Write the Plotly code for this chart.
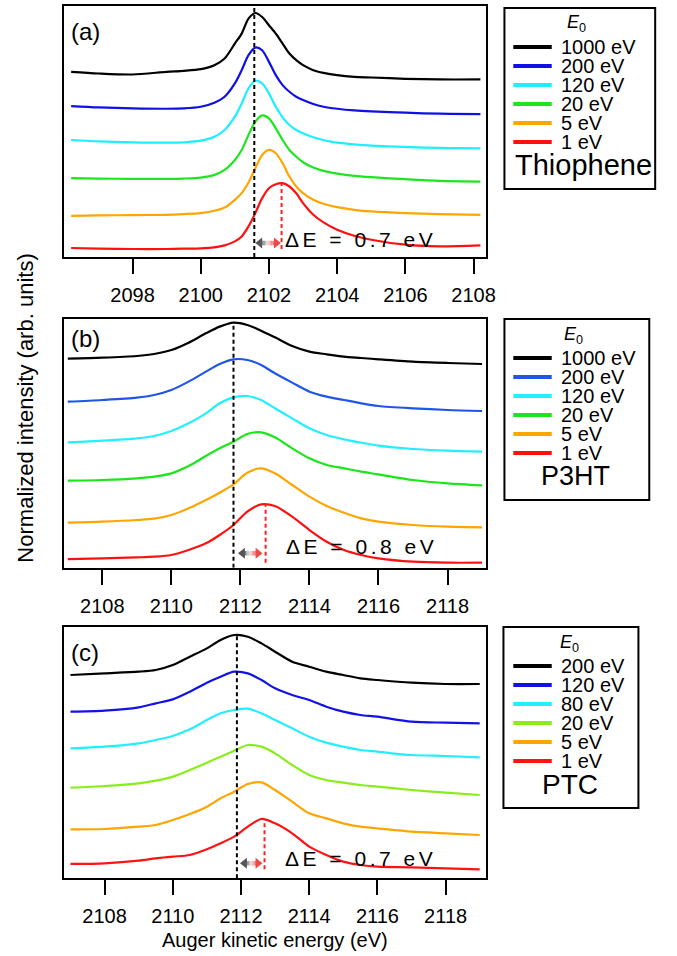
import plotly.graph_objects as go

W, H = 677, 956
FONT = "Liberation Sans, Arial, sans-serif"

# ---------------- Panel (a): Thiophene ----------------
energy_a = [2096.2, 2097, 2098, 2099, 2099.5, 2100, 2100.4, 2100.7, 2101.0, 2101.2,
            2101.4, 2101.6, 2101.8, 2102.0, 2102.2, 2102.4, 2102.6, 2102.8, 2103.0,
            2103.3, 2103.6, 2104.0, 2104.5, 2105, 2106, 2107, 2108.2]
thio_1000 = [557, 552, 549, 557, 560, 565, 577, 597, 642, 672, 717, 734, 722, 697, 672,
             642, 612, 592, 577, 562, 554, 547, 542, 540, 536, 534, 534]
thio_200 = [454, 450, 447, 446, 447, 452, 464, 482, 522, 562, 607, 630, 622, 587, 547,
            517, 497, 482, 472, 460, 452, 446, 441, 438, 434, 431, 430]
thio_120 = [352, 348, 345, 344, 345, 350, 362, 382, 422, 462, 507, 530, 522, 492, 452,
            420, 397, 382, 372, 360, 352, 344, 339, 335, 331, 328, 327]
thio_20 = [237, 236, 235, 235, 236, 239, 247, 262, 292, 322, 367, 407, 426, 417, 387,
           352, 322, 302, 285, 269, 259, 251, 244, 240, 234, 229, 227]
thio_5 = [124, 125, 126, 127, 129, 132, 139, 149, 172, 192, 224, 267, 307, 322, 312,
          282, 242, 212, 192, 172, 160, 150, 142, 137, 132, 129, 127]
thio_1 = [27, 25, 24, 24, 25, 26, 29, 35, 47, 62, 92, 132, 177, 207, 219, 222, 212,
          192, 162, 127, 104, 82, 64, 52, 37, 32, 35]

# ---------------- Panel (b): P3HT ----------------
energy_b = [2107.0, 2108, 2109, 2109.5, 2110, 2110.5, 2111, 2111.4, 2111.8, 2112.2,
            2112.6, 2113.0, 2113.5, 2114, 2114.5, 2115, 2115.5, 2116, 2117, 2118, 2119.0]
p3ht_1000 = [627, 630, 635, 641, 653, 675, 703, 723, 735, 728, 711, 691, 665, 648, 640,
             633, 629, 625, 618, 614, 611]
p3ht_200 = [498, 503, 510, 518, 533, 558, 588, 611, 625, 623, 608, 583, 555, 528, 513,
            503, 493, 485, 478, 473, 470]
p3ht_120 = [376, 381, 388, 395, 410, 433, 463, 493, 511, 515, 503, 478, 448, 418, 398,
            385, 375, 366, 356, 351, 348]
p3ht_20 = [261, 263, 268, 273, 283, 305, 335, 358, 378, 401, 406, 391, 358, 328, 308,
           298, 288, 280, 263, 253, 247]
p3ht_5 = [135, 138, 143, 147, 158, 178, 203, 225, 250, 285, 298, 283, 248, 213, 185,
          165, 148, 138, 128, 123, 121]
p3ht_1 = [26, 28, 31, 33, 38, 53, 73, 98, 128, 168, 190, 185, 153, 113, 78, 53, 38, 28,
          18, 15, 15]

# ---------------- Panel (c): PTC ----------------
energy_c = [2107.0, 2108, 2109, 2109.5, 2110, 2110.5, 2111, 2111.4, 2111.8, 2112.2,
            2112.6, 2113.0, 2113.5, 2114, 2114.5, 2115, 2115.5, 2116, 2117, 2118, 2119.0]
ptc_200 = [610, 615, 620, 625, 640, 665, 690, 715, 730, 725, 705, 680, 650, 635, 620,
           610, 600, 595, 587, 583, 583]
ptc_120 = [500, 503, 513, 525, 537, 560, 587, 605, 620, 615, 595, 570, 550, 535, 515,
           500, 490, 485, 470, 467, 465]
ptc_80 = [390, 395, 405, 415, 427, 447, 475, 495, 505, 509, 495, 475, 450, 425, 407,
          395, 385, 380, 370, 367, 363]
ptc_20 = [272, 277, 285, 293, 305, 325, 347, 365, 383, 400, 395, 375, 340, 310, 295,
          287, 280, 275, 265, 257, 250]
ptc_5 = [147, 148, 155, 160, 175, 193, 215, 240, 260, 283, 288, 265, 230, 195, 180,
         165, 155, 150, 140, 135, 130]
ptc_1 = [43, 45, 53, 60, 65, 70, 87, 105, 125, 155, 178, 165, 135, 95, 70, 50, 40, 35,
         33, 30, 27]

# labels
labels_a = ["1000 eV", "200 eV", "120 eV", "20 eV", "5 eV", "1 eV"]
labels_b = ["1000 eV", "200 eV", "120 eV", "20 eV", "5 eV", "1 eV"]
labels_c = ["200 eV", "120 eV", "80 eV", "20 eV", "5 eV", "1 eV"]
sample_names = ["Thiophene", "P3HT", "PTC"]
panel_tags = ["(a)", "(b)", "(c)"]
delta_texts = ["ΔE = 0.7 eV", "ΔE = 0.8 eV", "ΔE = 0.7 eV"]
ref_peak = [2101.57, 2111.80, 2111.88]     # black dashed line (high E0 peak)
low_peak = [2102.37, 2112.73, 2112.69]     # red dashed line (1 eV peak)
ticks_a = [2098, 2100, 2102, 2104, 2106, 2108]
ticks_bc = [2108, 2110, 2112, 2114, 2116, 2118]

colors_a = ["#000000", "#1010e6", "#1cefff", "#1ee61e", "#ffa500", "#ff1010"]
colors_b = ["#000000", "#1f55e8", "#22efff", "#1ae61a", "#ffa500", "#ff1010"]
colors_c = ["#000000", "#1212e6", "#22eeff", "#88ee18", "#ffa500", "#ff1212"]

panels = [
    dict(x=energy_a, ys=[thio_1000, thio_200, thio_120, thio_20, thio_5, thio_1],
         colors=colors_a, labels=labels_a, xr=[2096.0, 2108.35], yr=[0, 755], ticks=ticks_a),
    dict(x=energy_b, ys=[p3ht_1000, p3ht_200, p3ht_120, p3ht_20, p3ht_5, p3ht_1],
         colors=colors_b, labels=labels_b, xr=[2106.9, 2119.1], yr=[0, 745], ticks=ticks_bc),
    dict(x=energy_c, ys=[ptc_200, ptc_120, ptc_80, ptc_20, ptc_5, ptc_1],
         colors=colors_c, labels=labels_c, xr=[2106.82, 2119.17], yr=[0, 755], ticks=ticks_bc),
]

# layout geometry in pixels (top, bottom) of each box
box_tb = [(6, 257), (319.3, 567.7), (626.7, 878.3)]
box_lr = (65.3, 492.8)
legend_boxes = [(512, 665, 8), (512, 659, 319), (511, 648, 627)]
e0_x = [585, 582, 578]
name_x = [592, 584, 579]
name_size = [29, 27, 28]
delta_pos = [(2102.40, 52), (2113.26, 65), (2113.24, 60)]
arrow_y = [42, 43, 45]
arrow_gap = [(0.03, 0.02), (0.13, 0.09), (0.09, 0.06)]


def px(x):
    return x / W


def py(y):
    return 1 - y / H


def lerp(c0, c1, t):
    return "rgb(%d,%d,%d)" % tuple(round(a + (b - a) * t) for a, b in zip(c0, c1))


fig = go.Figure()
layout = dict(width=W, height=H, margin=dict(l=0, r=0, t=0, b=0),
              paper_bgcolor="white", plot_bgcolor="white", showlegend=False,
              font=dict(family=FONT, color="black", size=20))
shapes = []
annotations = []

for i, p in enumerate(panels):
    sfx = "" if i == 0 else str(i + 1)
    xa, ya = "x" + sfx, "y" + sfx
    for yv, col in zip(p["ys"], p["colors"]):
        assert len(yv) == len(p["x"])
        fig.add_trace(go.Scatter(x=p["x"], y=yv, mode="lines", xaxis=xa, yaxis=ya,
                                 line=dict(color=col, width=2.2, shape="spline", smoothing=0.8),
                                 hoverinfo="skip"))
    top, bot = box_tb[i]
    layout["xaxis" + sfx] = dict(domain=[px(box_lr[0]), px(box_lr[1])], range=p["xr"],
                                 anchor=ya, showline=True, mirror=True, linewidth=2,
                                 linecolor="black", ticks="outside", ticklen=15, tickwidth=2,
                                 tickcolor="black", tickvals=p["ticks"],
                                 ticktext=[str(t) for t in p["ticks"]],
                                 tickfont=dict(size=20, family=FONT), showgrid=False,
                                 zeroline=False, ticklabelstandoff=4)
    layout["yaxis" + sfx] = dict(domain=[py(bot), py(top)], range=p["yr"], anchor=xa,
                                 showline=True, mirror=True, linewidth=2, linecolor="black",
                                 showticklabels=False, ticks="", showgrid=False, zeroline=False)

    # data units per pixel
    ux = (p["xr"][1] - p["xr"][0]) / (box_lr[1] - box_lr[0])
    uy = (p["yr"][1] - p["yr"][0]) / (bot - top)

    # dashed reference lines
    black, red = p["ys"][0], p["ys"][-1]
    dash_top = p["yr"][1] if i == 0 else max(black)
    shapes.append(dict(type="line", xref=xa, yref=ya, x0=ref_peak[i], x1=ref_peak[i],
                       y0=0, y1=dash_top, line=dict(color="black", width=2, dash="4px,3px")))
    shapes.append(dict(type="line", xref=xa, yref=ya, x0=low_peak[i], x1=low_peak[i],
                       y0=min(red), y1=max(red), line=dict(color="#ff2020", width=2, dash="4px,3px")))

    # gradient double arrow (gray -> white -> red)
    xl = ref_peak[i] + arrow_gap[i][0]
    xr_ = low_peak[i] - arrow_gap[i][1]
    ay = arrow_y[i]
    hl, hh = 7 * ux, 5.5 * uy
    s0, s1 = xl + hl * 0.8, xr_ - hl * 0.8
    nseg = 10
    for k in range(nseg):
        t = (k + 0.5) / nseg
        if t < 0.5:
            col = lerp((85, 85, 85), (238, 238, 238), t / 0.5)
        else:
            col = lerp((250, 205, 205), (240, 75, 75), (t - 0.5) / 0.5)
        shapes.append(dict(type="line", xref=xa, yref=ya,
                           x0=s0 + (s1 - s0) * k / nseg, x1=s0 + (s1 - s0) * (k + 1) / nseg,
                           y0=ay, y1=ay, line=dict(color=col, width=4.5)))
    shapes.append(dict(type="path", xref=xa, yref=ya, line=dict(width=0), fillcolor="#555555",
                       path="M %f %f L %f %f L %f %f Z" % (xl, ay, xl + hl, ay + hh, xl + hl, ay - hh)))
    shapes.append(dict(type="path", xref=xa, yref=ya, line=dict(width=0), fillcolor="#f04848",
                       path="M %f %f L %f %f L %f %f Z" % (xr_, ay, xr_ - hl, ay + hh, xr_ - hl, ay - hh)))

    # ΔE label (letter-spaced)
    txt = "\u2006".join(list(delta_texts[i]))
    annotations.append(dict(x=delta_pos[i][0], y=delta_pos[i][1], xref=xa, yref=ya,
                            text=txt, showarrow=False, xanchor="left", yanchor="middle",
                            font=dict(size=21, family=FONT, color="black")))

    # panel tag
    annotations.append(dict(x=px(box_lr[0] + 5), y=py(top + 26 if i != 1 else top + 19),
                            xref="paper", yref="paper", text=panel_tags[i], showarrow=False,
                            xanchor="left", yanchor="middle",
                            font=dict(size=24, family=FONT, color="black")))

    # legend box
    lx0, lx1, lt = legend_boxes[i]
    shapes.append(dict(type="rect", xref="paper", yref="paper", x0=px(lx0), x1=px(lx1),
                       y0=py(lt), y1=py(lt + 181), line=dict(color="black", width=2),
                       fillcolor="rgba(0,0,0,0)"))
    annotations.append(dict(x=px(e0_x[i]), y=py(lt + 16), xref="paper", yref="paper",
                            text="<i>E</i><sub>0</sub>", showarrow=False, xanchor="center",
                            yanchor="middle", font=dict(size=18, family=FONT, color="black")))
    for k, (lab, col) in enumerate(zip(p["labels"], p["colors"])):
        ry = lt + 39 + 19 * k
        shapes.append(dict(type="line", xref="paper", yref="paper", x0=px(521), x1=px(560),
                           y0=py(ry), y1=py(ry), line=dict(color=col, width=4)))
        annotations.append(dict(x=px(567), y=py(ry), xref="paper", yref="paper", text=lab,
                                showarrow=False, xanchor="left", yanchor="middle",
                                font=dict(size=20, family=FONT, color="black")))
    annotations.append(dict(x=px(name_x[i]), y=py(lt + 157), xref="paper", yref="paper",
                            text=sample_names[i], showarrow=False, xanchor="center",
                            yanchor="middle",
                            font=dict(size=name_size[i], family=FONT, color="black")))

# axis titles
annotations.append(dict(x=px(279), y=py(940), xref="paper", yref="paper",
                        text="Auger kinetic energy (eV)", showarrow=False, xanchor="center",
                        yanchor="middle", font=dict(size=20, family=FONT, color="black")))
annotations.append(dict(x=px(25), y=py(408), xref="paper", yref="paper",
                        text="Normalized intensity (arb. units)", showarrow=False,
                        textangle=-90, xanchor="center", yanchor="middle",
                        font=dict(size=22, family=FONT, color="black")))

layout["shapes"] = shapes
layout["annotations"] = annotations
fig.update_layout(**layout)
fig.write_html("out.html", config={"displayModeBar": False},
               post_script="document.body.style.margin='0';")
